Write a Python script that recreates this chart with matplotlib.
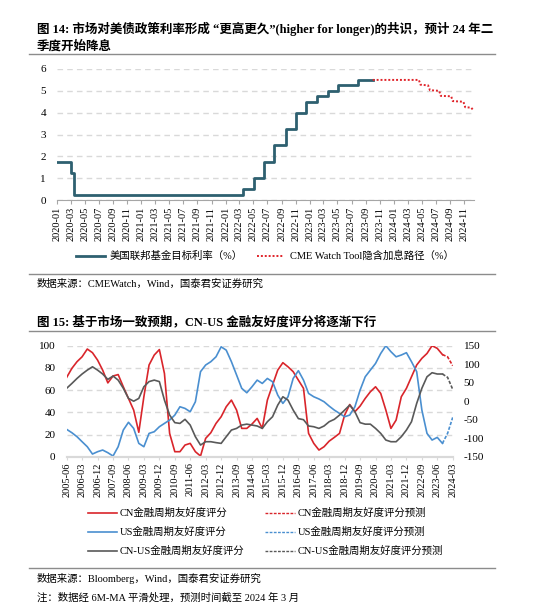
import matplotlib
matplotlib.use("Agg")
import matplotlib.pyplot as plt
import matplotlib.dates as mdates
from matplotlib.lines import Line2D
import pandas as pd

plt.rcParams['font.family'] = ['Liberation Serif', 'Noto Sans CJK SC']
plt.rcParams['axes.unicode_minus'] = False

# ---------- 图14 data ----------
fed_dates = ['2020-01-01', '2020-03-03', '2020-03-16', '2022-03-17', '2022-05-05',
             '2022-06-16', '2022-07-28', '2022-09-22', '2022-11-03', '2022-12-15',
             '2023-02-02', '2023-03-23', '2023-05-04', '2023-07-27', '2023-10-01']
fed_rate = [1.75, 1.25, 0.25, 0.5, 1.0, 1.75, 2.5, 3.25, 4.0, 4.5, 4.75, 5.0, 5.25, 5.5, 5.5]

cme_dates = ['2023-10-01', '2024-04-18', '2024-04-25', '2024-05-28', '2024-06-05',
             '2024-07-15', '2024-07-22', '2024-09-05', '2024-09-12', '2024-10-28',
             '2024-11-05', '2024-12-01', '2024-12-12']
cme_rate = [5.5, 5.5, 5.28, 5.25, 5.03, 5.0, 4.77, 4.75, 4.53, 4.5, 4.25, 4.23, 4.08]

# ---------- 图15 data (quarterly, 2005-06 .. 2024-03) ----------
score_start = '2005-06-01'
score_end = '2024-03-01'
cn_score = [71.5, 79.6, 85.6,
            90, 97, 93.7, 87,
            78, 66.5, 72.7, 74,
            63, 52.5, 42, 22,
            54, 82.6, 91.6, 96.5,
            75, 21, 4.5, 4.5,
            10.5, 12, 4.5, 0.6,
            16.5, 21.6, 30, 36,
            45, 51, 42, 25.5,
            25.5, 29.4, 34.5, 25.5,
            51, 64.6, 78, 84.7,
            81, 76.6, 69, 61.6,
            21, 12, 6, 9,
            14, 17.4, 21, 37.5,
            47, 40.5, 45.6, 52.5,
            58.5, 63, 57, 42,
            25.5, 33, 54, 61.6,
            72, 82.6, 88.6, 93,
            100, 97.6, 92, 90,
            82]
us_score = [24.6, 21.6, 18,
            13.5, 9, 2.4, 4.5,
            6, 3.6, 0.6, 9,
            24, 31, 25.5, 12,
            9, 21, 22.5, 27,
            30, 33, 37.5, 45,
            43.5, 40.5, 49.5, 76.6,
            82.6, 85.6, 90, 99,
            96, 85.6, 73.6, 61.6,
            57.6, 63, 69, 66,
            70.5, 67.5, 55.5, 48,
            54, 70.5, 77.5, 69,
            57, 54, 52, 49.5,
            45.6, 42, 39, 36,
            37.5, 45, 60, 72,
            78, 84, 93, 100,
            94.6, 90, 91.6, 93.7,
            85.6, 76.6, 42, 21,
            15, 17.4, 12, 21,
            35.4]
cnus_score = [35, 48, 61.5,
              73.5, 84, 93, 84,
              73.5, 59, 68, 57,
              35, 7.5, 0, 7.5,
              39, 53, 57, 53,
              3, -37.5, -58, -60,
              -49, -64.5, -96, -118.5,
              -109.5, -109.5, -112, -114,
              -96, -78, -73.5, -64.5,
              -62, -64.5, -67, -73.5,
              -55.5, -42, -10.5, 12,
              3, -24, -47, -50,
              -67, -69, -73.5, -67,
              -55.5, -49, -37.5, -24,
              -10.5, -28.5, -58, -62,
              -62, -73.5, -87, -105,
              -109.5, -109.5, -96, -78,
              -55.5, -6, 35, 66,
              77, 73.5, 73.5, 64.5,
              32]
forecast_from = '2023-09-01'

W, H = 540, 603


def fx(px):
    return px / W


def fy(py):
    return 1 - py / H


fig = plt.figure(figsize=(W / 100, H / 100), dpi=100)

c_fed = '#2E6070'
c_cme = '#E0242A'
c_cn = '#D9252B'
c_us = '#4A8FD0'
c_gap = '#595959'
grid_c = '#D9D9D9'

# ---------- 图14 ----------
fig.text(fx(37), fy(29), '图 14: 市场对美债政策利率形成 “更高更久”(higher for longer)的共识，预计 24 年二',
         fontsize=9, fontweight='bold', va='center', ha='left')
fig.text(fx(37), fy(46), '季度开始降息', fontsize=9, fontweight='bold', va='center', ha='left')

ax1 = fig.add_axes([fx(57), fy(200), fx(474) - fx(57), fy(69) - fy(200)])
ax1.step(pd.to_datetime(fed_dates), fed_rate, where='post', color=c_fed, lw=2)
ax1.plot(pd.to_datetime(cme_dates), cme_rate, color=c_cme, lw=1.4, ls=(0, (1, 1)))
ax1.set_ylim(0, 6)
ax1.set_yticks(range(0, 7))
ax1.set_xlim(pd.Timestamp('2020-01-01'), pd.Timestamp('2024-12-13'))
ax1.xaxis.set_major_locator(mdates.MonthLocator(bymonth=[1, 3, 5, 7, 9, 11]))
ax1.xaxis.set_major_formatter(mdates.DateFormatter('%Y-%m'))
ax1.yaxis.grid(True, color=grid_c, ls=(0, (4, 3)), lw=1)
ax1.set_axisbelow(True)
for s in ['top', 'right', 'left']:
    ax1.spines[s].set_visible(False)
ax1.spines['bottom'].set_color('#A6A6A6')
ax1.tick_params(axis='x', length=3, color='#A6A6A6', labelsize=7.5, rotation=90, pad=2)
ax1.tick_params(axis='y', length=0, labelsize=8, pad=8)

fig.add_artist(Line2D([fx(76), fx(105)], [fy(256)] * 2, color=c_fed, lw=2))
fig.text(fx(110), fy(256), '美国联邦基金目标利率（%）', fontsize=7.5, va='center')
fig.add_artist(Line2D([fx(257), fx(283)], [fy(256)] * 2, color=c_cme, lw=1.4, ls=(0, (1, 1))))
fig.text(fx(290), fy(256), 'CME Watch Tool隐含加息路径（%）', fontsize=7.5, va='center')

for y in [54, 274, 331, 568]:
    fig.add_artist(Line2D([fx(29), fx(495)], [fy(y)] * 2, color='#8C8C8C', lw=1))

fig.text(fx(37), fy(284), '数据来源：CMEWatch，Wind，国泰君安证券研究', fontsize=7.5, va='center')

# ---------- 图15 ----------
fig.text(fx(37), fy(322), '图 15: 基于市场一致预期，CN-US 金融友好度评分将逐渐下行',
         fontsize=9, fontweight='bold', va='center', ha='left')

dates2 = pd.date_range(score_start, score_end, freq='3MS')
hist = dates2 <= pd.Timestamp(forecast_from)
fc = dates2 >= pd.Timestamp(forecast_from)

ax2 = fig.add_axes([fx(66.7), fy(456.7), fx(452.7) - fx(66.7), fy(345.7) - fy(456.7)])
ax2r = ax2.twinx()
cn = pd.Series(cn_score, index=dates2)
us = pd.Series(us_score, index=dates2)
gap = pd.Series(cnus_score, index=dates2)

ax2.plot(cn[hist].index, cn[hist].values, color=c_cn, lw=1.2)
ax2.plot(cn[fc].index, cn[fc].values, color=c_cn, lw=1.2, ls=(0, (2, 1)))
ax2.plot(us[hist].index, us[hist].values, color=c_us, lw=1.2)
ax2.plot(us[fc].index, us[fc].values, color=c_us, lw=1.2, ls=(0, (2, 1)))
ax2r.plot(gap[hist].index, gap[hist].values, color=c_gap, lw=1.2)
ax2r.plot(gap[fc].index, gap[fc].values, color=c_gap, lw=1.2, ls=(0, (2, 1)))

ax2.set_ylim(0, 100)
ax2.set_yticks(range(0, 101, 20))
ax2r.set_ylim(-150, 150)
ax2r.set_yticks(range(-150, 151, 50))
ax2.set_xlim(dates2[0], dates2[-1])
ax2.set_xticks(dates2[::3])
ax2.set_xticklabels([d.strftime('%Y-%m') for d in dates2[::3]])
ax2.yaxis.grid(True, color=grid_c, ls=(0, (4, 3)), lw=1)
ax2.set_axisbelow(True)
for a in (ax2, ax2r):
    for s in ['top', 'right', 'left']:
        a.spines[s].set_visible(False)
    a.spines['bottom'].set_color('#D9D9D9')
    a.spines['bottom'].set_linewidth(1.5)
ax2.tick_params(axis='x', length=2, color='#D9D9D9', labelsize=7.5, rotation=90, pad=2)
ax2.tick_params(axis='y', length=0, labelsize=8, pad=8)
ax2r.tick_params(axis='y', length=0, labelsize=8, pad=8)

legend_rows = [
    (513, c_cn, 'CN金融周期友好度评分', 'CN金融周期友好度评分预测'),
    (532, c_us, 'US金融周期友好度评分', 'US金融周期友好度评分预测'),
    (551, c_gap, 'CN-US金融周期友好度评分', 'CN-US金融周期友好度评分预测'),
]
for y, col, lab, lab_fc in legend_rows:
    fig.add_artist(Line2D([fx(88), fx(117)], [fy(y)] * 2, color=col, lw=1.2))
    fig.text(fx(120), fy(y), lab, fontsize=7.5, va='center')
    fig.add_artist(Line2D([fx(265), fx(295)], [fy(y)] * 2, color=col, lw=1, ls=(0, (2, 1))))
    fig.text(fx(298), fy(y), lab_fc, fontsize=7.5, va='center')

fig.text(fx(37), fy(578), '数据来源：Bloomberg，Wind，国泰君安证券研究', fontsize=7.5, va='center')
fig.text(fx(37), fy(597), '注：数据经 6M-MA 平滑处理，预测时间截至 2024 年 3 月', fontsize=7.5, va='center')

fig.savefig('out.png', dpi=100)
